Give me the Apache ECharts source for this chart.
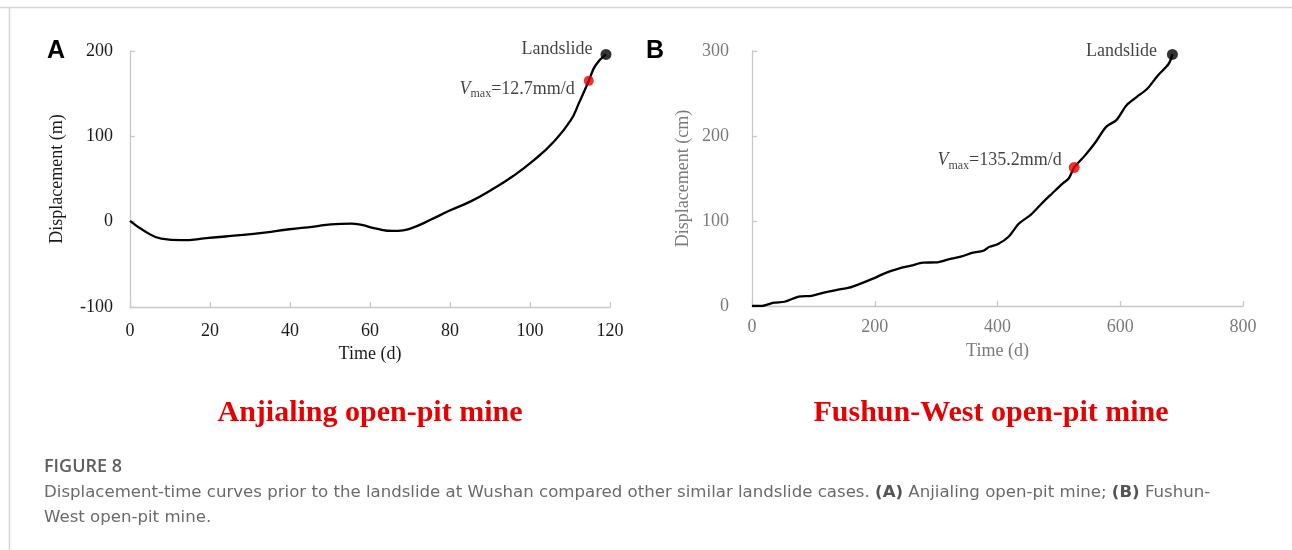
<!DOCTYPE html>
<html>
<head>
<meta charset="utf-8">
<script src="https://cdn.jsdelivr.net/npm/echarts@6/dist/echarts.min.js"></script>
<style>
html,body{margin:0;padding:0;background:#fff;}
#chart{width:1292px;height:550px;}
</style>
</head>
<body>
<div id="chart"></div>
<script>
// ---- Panel A: Anjialing open-pit mine ----
const anjialingTime = [0, 3.6, 7.8, 12.9, 19.1, 25.3, 33.6, 39.8, 46, 50.2, 55.3, 57.9, 61.6, 65.7, 68.3, 71.4, 75, 80.2, 85.3, 90.5, 95.7, 100.9, 106, 110.2, 112.2, 114.7, 116.4, 119];
const anjialingDisp = [0.8, -10.9, -19.8, -21.7, -19.4, -16.7, -12.8, -8.9, -5.8, -3.1, -2.3, -3.9, -8.2, -10.9, -10.1, -5.8, 1.9, 13.6, 24.1, 37.7, 53.2, 71.8, 94, 119, 138.6, 165, 183.3, 196];
const anjialingVmaxPoint = [114.7, 165];
const anjialingLandslidePoint = [119, 196];
const anjialingXTicks = [0, 20, 40, 60, 80, 100, 120];
const anjialingYTicks = [-100, 0, 100, 200];

// ---- Panel B: Fushun-West open-pit mine ----
const fushunTime = [0, 15, 36, 53, 76, 97, 117, 137, 158, 178, 198, 218, 239, 259, 279, 300, 320, 340, 360, 377, 387, 401, 418, 435, 455, 472, 489, 506, 516, 525, 543, 560, 577, 594, 610, 627, 644, 661, 679, 685];
const fushunDisp = [0, 0, 3.9, 5, 11, 12, 15.7, 18.8, 21.5, 26.6, 32.5, 39, 44, 47.4, 51, 51.3, 54.8, 58, 62.7, 65, 69.7, 72.9, 81.5, 97, 107.7, 120.6, 132.4, 144, 150, 163, 177.5, 193, 210.7, 219, 236, 246, 255.6, 271, 285, 296];
const fushunVmaxPoint = [525, 163];
const fushunLandslidePoint = [685, 296];
const fushunXTicks = [0, 200, 400, 600, 800];
const fushunYTicks = [0, 100, 200, 300];

// ---- Texts ----
const panelLetters = ['A', 'B'];
const yAxisNames = ['Displacement (m)', 'Displacement (cm)'];
const xAxisName = 'Time (d)';
const vmaxTexts = ['=12.7mm/d', '=135.2mm/d'];
const landslideText = 'Landslide';
const panelTitles = ['Anjialing open-pit mine', 'Fushun-West open-pit mine'];
const figureLabel = 'FIGURE 8';
const captionText = 'Displacement-time curves prior to the landslide at Wushan compared other similar landslide cases. {b|(A)} Anjialing open-pit mine; {b|(B)} Fushun-\nWest open-pit mine.';

const zip = (a, b) => a.map((v, i) => [v, b[i]]);
const serif = '"Liberation Serif", "Times New Roman", serif';
const capFont = '"DejaVu Sans", sans-serif';

function xAxis(gridIndex, ticks, color, nameGap, margin) {
  return {
    type: 'value', gridIndex,
    min: ticks[0], max: ticks[ticks.length - 1], interval: ticks[1] - ticks[0],
    name: xAxisName, nameLocation: 'middle', nameGap,
    nameTextStyle: {fontFamily: serif, fontSize: 18, color},
    axisLine: {onZero: false, lineStyle: {color: '#c8c8c8', width: 1.3}},
    axisTick: {inside: true, length: 5, lineStyle: {color: '#c8c8c8', width: 1.3}},
    axisLabel: {fontFamily: serif, fontSize: 18, color, margin},
    splitLine: {show: false}
  };
}
function yAxis(gridIndex, ticks, color, name, nameGap, margin) {
  return {
    type: 'value', gridIndex,
    min: ticks[0], max: ticks[ticks.length - 1], interval: ticks[1] - ticks[0],
    name, nameLocation: 'middle', nameGap,
    nameTextStyle: {fontFamily: serif, fontSize: 18, color},
    axisLine: {show: true, lineStyle: {color: '#c8c8c8', width: 1.3}},
    axisTick: {show: true, inside: true, length: 5, lineStyle: {color: '#c8c8c8', width: 1.3}},
    axisLabel: {fontFamily: serif, fontSize: 18, color, margin},
    splitLine: {show: false}
  };
}
function vmaxLabel(text, offset, dist) {
  return {
    show: true, position: 'left', distance: dist, offset,
    formatter: '{v|V}{s|max}{n|' + text + '}',
    rich: {
      v: {fontFamily: serif, fontSize: 18, fontStyle: 'italic', color: '#111', lineHeight: 22, verticalAlign: 'middle'},
      s: {fontFamily: serif, fontSize: 12, color: '#111', lineHeight: 12, padding: [11, 0, 0, 0], verticalAlign: 'bottom'},
      n: {fontFamily: serif, fontSize: 18, color: '#111', lineHeight: 22, verticalAlign: 'middle'}
    }
  };
}
function landLabel(offset, dist) {
  return {show: true, position: 'left', distance: dist, offset, formatter: landslideText,
    fontFamily: serif, fontSize: 18, color: '#111'};
}

const chart = echarts.init(document.getElementById('chart'), null, {renderer: 'canvas'});
chart.setOption({
  animation: false,
  backgroundColor: '#fff',
  grid: [
    {left: 130, right: 682, top: 51, bottom: 243},
    {left: 752, right: 49, top: 51, bottom: 244}
  ],
  xAxis: [
    xAxis(0, anjialingXTicks, '#1a1a1a', 38, 15),
    xAxis(1, fushunXTicks, '#7a7a7a', 36, 12)
  ],
  yAxis: [
    yAxis(0, anjialingYTicks, '#1a1a1a', yAxisNames[0], 64, 17),
    yAxis(1, fushunYTicks, '#7a7a7a', yAxisNames[1], 60, 23)
  ],
  series: [
    {type: 'line', xAxisIndex: 0, yAxisIndex: 0, data: zip(anjialingTime, anjialingDisp),
      smooth: 0.5, showSymbol: false, lineStyle: {color: '#000', width: 2.3}, z: 2},
    {type: 'line', xAxisIndex: 1, yAxisIndex: 1, data: zip(fushunTime, fushunDisp),
      smooth: 0.3, showSymbol: false, lineStyle: {color: '#000', width: 2.3}, z: 2},
    {type: 'scatter', xAxisIndex: 0, yAxisIndex: 0, data: [anjialingVmaxPoint], symbolSize: 10,
      itemStyle: {color: '#e60000'}, label: vmaxLabel(vmaxTexts[0], [0, 8], 9), z: 3},
    {type: 'scatter', xAxisIndex: 0, yAxisIndex: 0, data: [anjialingLandslidePoint], symbolSize: 11,
      itemStyle: {color: '#000'}, label: landLabel([0, -5], 8), z: 3},
    {type: 'scatter', xAxisIndex: 1, yAxisIndex: 1, data: [fushunVmaxPoint], symbolSize: 11,
      itemStyle: {color: '#e60000'}, label: vmaxLabel(vmaxTexts[1], [0, -7], 7), z: 3},
    {type: 'scatter', xAxisIndex: 1, yAxisIndex: 1, data: [fushunLandslidePoint], symbolSize: 11,
      itemStyle: {color: '#000'}, label: landLabel([0, -3], 10), z: 3}
  ],
  graphic: [
    {type: 'line', shape: {x1: 0, y1: 7.5, x2: 1292, y2: 7.5}, style: {stroke: '#d6d6d6', lineWidth: 1.5}, silent: true},
    {type: 'line', shape: {x1: 9.5, y1: 7.5, x2: 9.5, y2: 550}, style: {stroke: '#d6d6d6', lineWidth: 1.5}, silent: true},
    {type: 'text', left: 47, top: 39, style: {text: panelLetters[0], font: 'bold 25px "Liberation Sans", Arial, sans-serif', fill: '#000'}},
    {type: 'text', left: 646, top: 39, style: {text: panelLetters[1], font: 'bold 25px "Liberation Sans", Arial, sans-serif', fill: '#000'}},
    {type: 'text', x: 370, y: 413, style: {text: panelTitles[0], font: 'bold 30px "Liberation Serif", "Times New Roman", serif', fill: '#e60000', align: 'center', verticalAlign: 'middle'}},
    {type: 'text', x: 991, y: 413, style: {text: panelTitles[1], font: 'bold 30px "Liberation Serif", "Times New Roman", serif', fill: '#e60000', align: 'center', verticalAlign: 'middle'}},
    {type: 'text', x: 44, y: 467, style: {text: figureLabel, font: '600 18px "Open Sans", sans-serif', fill: '#5e5e5e', verticalAlign: 'middle'}},
    {type: 'text', x: 44, y: 480, style: {
      text: captionText, fontFamily: capFont, fontSize: 16.6, fill: '#6a6a6a', lineHeight: 25,
      rich: {b: {fontFamily: capFont, fontSize: 16.6, fontWeight: 'bold', fill: '#555', lineHeight: 25}}
    }}
  ]
});
</script>
</body>
</html>
